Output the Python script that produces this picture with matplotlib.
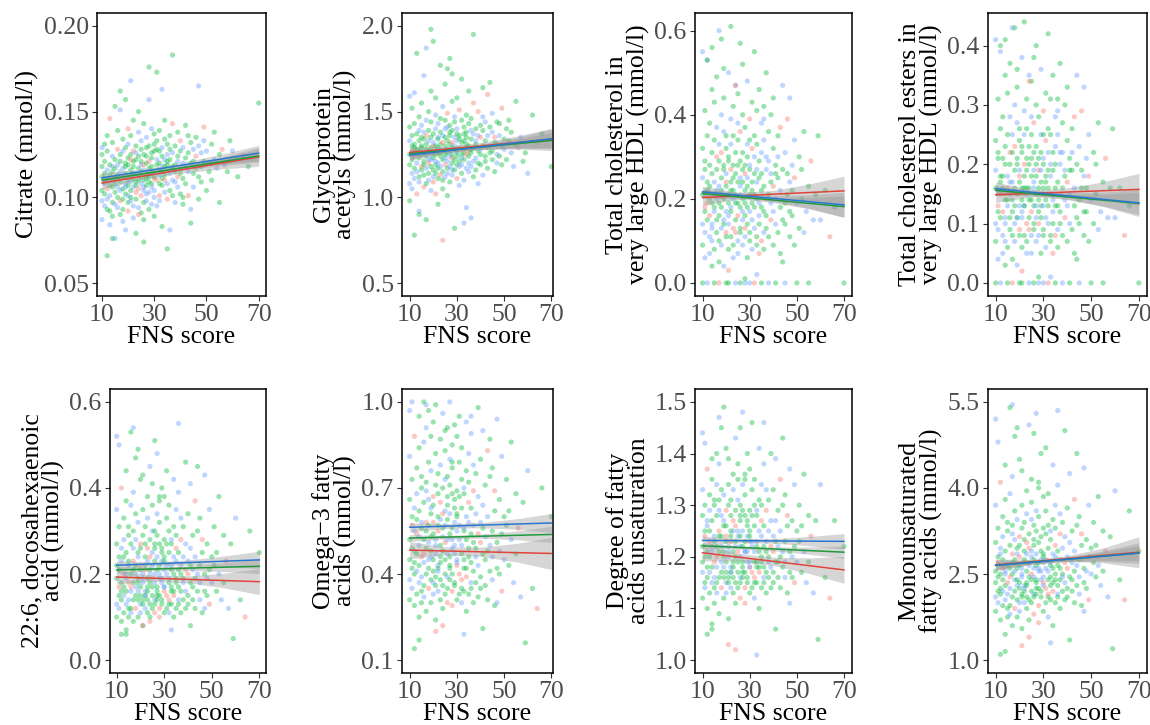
import matplotlib
matplotlib.use("Agg")
import matplotlib.pyplot as plt
from matplotlib.ticker import FormatStrFormatter

plt.rcParams['font.family'] = ['Liberation Serif', 'DejaVu Serif']

# ---------------- data ----------------
# FNS score of each participant (shared by all panels)
FNS = [10,10,10,10,10,10,11,11,11,11,
       11,11,11,12,12,12,12,12,12,12,
       13,13,13,13,13,13,13,14,14,14,
       14,14,14,14,14,15,15,15,15,15,
       15,15,15,16,16,16,16,16,16,16,
       16,17,17,17,17,17,17,17,17,18,
       18,18,18,18,18,18,18,19,19,19,
       19,19,19,19,19,20,20,20,20,20,
       20,20,20,20,21,21,21,21,21,21,
       21,21,21,22,22,22,22,22,22,22,
       22,22,23,23,23,23,23,23,23,23,
       23,24,24,24,24,24,24,24,24,25,
       25,25,25,25,25,25,25,25,26,26,
       26,26,26,26,26,26,26,27,27,27,
       27,27,27,27,27,27,28,28,28,28,
       28,28,28,28,28,29,29,29,29,29,
       29,29,29,30,30,30,30,30,30,30,
       30,30,31,31,31,31,31,31,31,32,
       32,32,32,32,32,32,32,33,33,33,
       33,33,33,33,34,34,34,34,34,34,
       34,35,35,35,35,35,35,35,36,36,
       36,36,36,36,37,37,37,37,37,37,
       38,38,38,38,38,39,39,39,39,39,
       40,40,40,40,40,41,41,41,41,42,
       42,42,42,43,43,43,43,44,44,44,
       45,45,45,45,46,46,46,47,47,47,
       48,48,48,49,49,49,50,50,51,51,
       52,52,53,53,54,55,55,56,57,58,
       12,17,21,26,33,44,59,60,62,64,
       10,14,19,24,28,36,41,47,66,70]

# group of each participant: r / g / b
GROUP = "".join([
    "gbggbgrgbg", "ggbgbgrgbg", "bggrgbggbg", "ggbgbggrbg", "gbgrggbgbb",
    "gggbgbrggb", "bgggrbgbgg", "gbgbggrggb", "ggrbgbggbg", "bgggbgrbgg",
    "gbggrgbgbg", "ggbgbgrggb", "bgrggbggbg", "gggbrgbgbg", "gbgbggrgbg",
    "ggbrgbggbg", "bggbgrggbg", "gbggbgrbgg", "ggrgbgbggb", "bgggbgrgbg",
    "gbgrgbggbg", "ggbgbrggbg", "gbggbgrgbb", "bggrgbgbgg", "ggbgrgbggb",
    "gbgbggrgbg", "bggbgrgbgg", "ggbgbggrbg", "gbrgbggbgr", "bggrgbgbgg"])

Y_CITRATE = [
    0.112,0.098,0.125,0.104,0.087,0.118,0.109,0.131,0.095,0.114,
    0.102,0.121,0.108,0.093,0.116,0.136,0.105,0.111,0.099,0.127,
    0.084,0.113,0.107,0.146,0.119,0.101,0.092,0.115,0.124,0.106,
    0.097,0.132,0.110,0.089,0.118,0.103,0.153,0.112,0.096,0.122,
    0.108,0.076,0.117,0.128,0.100,0.113,0.094,0.139,0.106,0.119,
    0.111,0.090,0.125,0.104,0.162,0.115,0.098,0.109,0.121,0.086,
    0.117,0.105,0.134,0.099,0.112,0.127,0.093,0.108,0.120,0.102,
    0.114,0.081,0.129,0.106,0.118,0.097,0.140,0.110,0.123,0.101,
    0.107,0.119,0.092,0.131,0.113,0.168,0.104,0.116,0.098,0.125,
    0.109,0.136,0.100,0.121,0.088,0.114,0.127,0.106,0.145,0.111,
    0.118,0.095,0.109,0.130,0.103,0.122,0.114,0.079,0.126,0.107,
    0.099,0.117,0.138,0.110,0.094,0.124,0.105,0.113,0.150,0.119,
    0.108,0.128,0.101,0.115,0.091,0.133,0.112,0.121,0.104,0.097,
    0.125,0.110,0.143,0.106,0.119,0.087,0.116,0.129,0.102,0.113,
    0.120,0.098,0.111,0.135,0.107,0.124,0.115,0.093,0.157,0.109,
    0.117,0.130,0.103,0.121,0.112,0.096,0.126,0.108,0.140,0.114,
    0.106,0.123,0.118,0.100,0.131,0.111,0.089,0.127,0.115,0.137,
    0.112,0.104,0.128,0.119,0.095,0.133,0.110,0.122,0.173,0.108,
    0.116,0.127,0.101,0.120,0.113,0.139,0.098,0.124,0.111,0.118,
    0.129,0.107,0.115,0.083,0.122,0.134,0.110,0.118,0.103,0.145,
    0.113,0.125,0.119,0.099,0.131,0.108,0.121,0.070,0.116,0.128,
    0.104,0.136,0.114,0.122,0.110,0.143,0.118,0.101,0.126,0.183,
    0.119,0.109,0.130,0.115,0.097,0.124,0.112,0.138,0.106,0.121,
    0.117,0.127,0.102,0.133,0.114,0.120,0.096,0.129,0.111,0.142,
    0.123,0.108,0.118,0.136,0.101,0.126,0.115,0.120,0.132,0.093,
    0.114,0.128,0.121,0.106,0.135,0.117,0.124,0.099,0.130,0.112,
    0.126,0.118,0.109,0.133,0.121,0.141,0.104,0.127,0.115,0.120,
    0.131,0.110,0.122,0.138,0.117,0.125,0.097,0.128,0.119,0.115,
    0.066,0.151,0.122,0.074,0.163,0.085,0.133,0.127,0.112,0.124,
    0.129,0.076,0.157,0.090,0.176,0.081,0.100,0.165,0.118,0.155]

Y_GLYCA = [
    1.25,1.08,1.41,1.19,1.33,0.98,1.27,1.52,1.14,1.30,
    1.22,1.36,1.05,1.29,1.61,1.17,1.24,1.43,1.11,1.31,
    1.20,1.84,1.28,1.02,1.37,1.15,1.26,1.47,1.09,1.33,
    1.23,1.12,1.39,1.27,0.92,1.30,1.55,1.18,1.25,1.35,
    1.16,1.42,1.29,1.06,1.21,1.34,1.71,1.13,1.26,1.38,
    1.19,1.31,1.08,1.45,1.24,1.17,1.36,1.28,0.87,1.22,
    1.33,1.14,1.27,1.50,1.20,1.10,1.39,1.25,1.62,1.18,
    1.29,1.04,1.35,1.22,1.44,1.16,1.30,1.91,1.26,1.12,
    1.37,1.23,1.09,1.32,1.19,1.48,1.27,1.14,1.40,1.25,
    1.21,1.58,1.30,1.17,1.35,0.96,1.26,1.43,1.11,1.29,
    1.34,1.20,1.46,1.24,1.13,1.38,1.28,1.77,1.18,1.31,
    1.26,1.10,1.36,1.22,1.53,1.15,1.32,1.27,1.05,1.40,
    1.23,1.45,1.19,1.30,1.66,1.12,1.35,1.25,1.41,1.17,
    1.28,1.01,1.33,1.21,1.49,1.26,1.14,1.38,1.24,1.81,
    1.31,1.18,1.42,1.27,1.09,1.36,1.23,1.56,1.16,1.29,
    1.25,1.39,1.13,1.32,1.20,1.47,1.28,0.82,1.35,1.22,
    1.30,1.16,1.44,1.26,1.37,1.11,1.58,1.24,1.33,1.19,
    1.27,1.40,1.21,1.34,1.07,1.29,1.51,1.18,1.36,1.25,
    1.32,1.14,1.28,1.45,1.23,1.69,1.19,1.37,1.26,1.10,
    1.29,1.41,1.22,1.33,1.17,1.48,1.25,1.38,0.94,1.31,
    1.35,1.20,1.43,1.27,1.62,1.15,1.30,1.24,1.39,1.28,
    1.26,1.46,1.18,1.34,1.21,1.55,1.29,1.12,1.37,1.95,
    1.31,1.23,1.40,1.16,1.33,1.27,1.50,1.20,1.36,1.08,
    1.28,1.42,1.25,1.35,1.19,1.47,1.30,1.13,1.39,1.24,
    1.33,1.21,1.44,1.29,1.60,1.17,1.36,1.26,1.41,1.30,
    1.27,1.38,1.22,1.49,1.32,1.15,1.35,1.44,1.25,1.31,
    1.36,1.24,1.43,1.30,1.19,1.52,1.34,1.28,1.40,1.22,
    1.33,1.45,1.26,1.38,1.18,1.31,1.56,1.29,1.35,1.21,
    0.78,1.87,1.02,1.75,0.85,1.67,1.26,1.14,1.48,1.32,
    1.59,0.90,1.98,0.75,1.72,0.88,1.64,1.20,1.37,1.18]

Y_XLHDL_C = [
    0.21,0.14,0.32,0.09,0.25,0.00,0.18,0.41,0.12,0.27,
    0.17,0.29,0.06,0.22,0.53,0.15,0.19,0.35,0.00,0.24,
    0.11,0.20,0.38,0.16,0.28,0.07,0.23,0.46,0.13,0.31,
    0.19,0.56,0.10,0.26,0.14,0.34,0.00,0.21,0.17,0.43,
    0.08,0.24,0.18,0.30,0.12,0.49,0.22,0.15,0.37,0.20,
    0.27,0.10,0.19,0.33,0.05,0.23,0.00,0.29,0.16,0.40,
    0.13,0.25,0.58,0.18,0.31,0.09,0.22,0.36,0.14,0.27,
    0.20,0.04,0.28,0.15,0.44,0.11,0.24,0.00,0.32,0.17,
    0.23,0.35,0.12,0.26,0.19,0.50,0.08,0.29,0.16,0.21,
    0.14,0.30,0.00,0.22,0.39,0.11,0.27,0.18,0.61,0.24,
    0.17,0.33,0.09,0.25,0.13,0.42,0.20,0.28,0.06,0.35,
    0.22,0.15,0.47,0.19,0.00,0.26,0.12,0.31,0.21,0.38,
    0.10,0.24,0.16,0.34,0.28,0.07,0.45,0.19,0.23,0.13,
    0.29,0.18,0.00,0.25,0.36,0.12,0.21,0.52,0.15,0.27,
    0.20,0.09,0.31,0.17,0.40,0.24,0.13,0.28,0.00,0.22,
    0.16,0.37,0.11,0.26,0.19,0.33,0.06,0.23,0.48,0.18,
    0.25,0.14,0.30,0.00,0.21,0.39,0.10,0.27,0.17,0.34,
    0.12,0.28,0.19,0.43,0.08,0.24,0.32,0.15,0.22,0.55,
    0.18,0.26,0.00,0.35,0.13,0.21,0.30,0.09,0.41,0.24,
    0.27,0.11,0.20,0.33,0.16,0.46,0.07,0.25,0.19,0.29,
    0.14,0.38,0.22,0.10,0.00,0.31,0.18,0.26,0.12,0.42,
    0.23,0.17,0.34,0.08,0.27,0.20,0.50,0.13,0.30,0.16,
    0.21,0.29,0.11,0.36,0.00,0.24,0.15,0.40,0.19,0.26,
    0.17,0.32,0.09,0.23,0.44,0.14,0.28,0.20,0.00,0.35,
    0.25,0.12,0.30,0.18,0.37,0.07,0.22,0.27,0.15,0.47,
    0.19,0.31,0.14,0.00,0.26,0.21,0.39,0.11,0.24,0.17,
    0.28,0.16,0.22,0.34,0.09,0.25,0.00,0.19,0.30,0.13,
    0.20,0.27,0.12,0.36,0.17,0.23,0.00,0.29,0.15,0.21,
    0.53,0.60,0.03,0.57,0.02,0.05,0.35,0.15,0.22,0.11,
    0.55,0.04,0.51,0.47,0.01,0.39,0.26,0.44,0.18,0.00]

Y_XLHDL_CE = [
    0.16,0.10,0.24,0.07,0.19,0.00,0.13,0.31,0.09,0.21,
    0.12,0.22,0.04,0.17,0.39,0.11,0.15,0.26,0.00,0.18,
    0.08,0.16,0.28,0.12,0.21,0.05,0.18,0.35,0.10,0.23,
    0.14,0.41,0.07,0.20,0.11,0.25,0.00,0.16,0.13,0.32,
    0.06,0.18,0.14,0.22,0.09,0.37,0.17,0.11,0.28,0.15,
    0.20,0.08,0.14,0.25,0.04,0.17,0.00,0.22,0.12,0.30,
    0.10,0.19,0.43,0.13,0.23,0.07,0.16,0.27,0.11,0.20,
    0.15,0.03,0.21,0.11,0.33,0.08,0.18,0.00,0.24,0.13,
    0.17,0.26,0.09,0.19,0.14,0.38,0.06,0.22,0.12,0.16,
    0.11,0.23,0.00,0.16,0.29,0.08,0.20,0.13,0.44,0.18,
    0.13,0.25,0.07,0.19,0.10,0.31,0.15,0.21,0.05,0.26,
    0.16,0.11,0.35,0.14,0.00,0.20,0.09,0.23,0.16,0.28,
    0.08,0.18,0.12,0.25,0.21,0.05,0.34,0.14,0.17,0.10,
    0.22,0.13,0.00,0.19,0.27,0.09,0.16,0.40,0.11,0.20,
    0.15,0.07,0.23,0.13,0.30,0.18,0.10,0.21,0.00,0.16,
    0.12,0.28,0.08,0.19,0.14,0.25,0.05,0.17,0.36,0.13,
    0.19,0.11,0.22,0.00,0.16,0.29,0.08,0.20,0.13,0.25,
    0.09,0.21,0.14,0.32,0.06,0.18,0.24,0.11,0.17,0.42,
    0.13,0.19,0.00,0.26,0.10,0.16,0.22,0.07,0.31,0.18,
    0.20,0.08,0.15,0.25,0.12,0.35,0.05,0.19,0.14,0.22,
    0.10,0.28,0.16,0.08,0.00,0.23,0.13,0.20,0.09,0.31,
    0.17,0.13,0.25,0.06,0.20,0.15,0.37,0.10,0.22,0.12,
    0.16,0.22,0.08,0.27,0.00,0.18,0.11,0.30,0.14,0.19,
    0.13,0.24,0.07,0.17,0.33,0.10,0.21,0.15,0.00,0.26,
    0.19,0.09,0.22,0.13,0.28,0.05,0.16,0.20,0.11,0.35,
    0.14,0.23,0.10,0.00,0.19,0.16,0.29,0.08,0.18,0.12,
    0.21,0.12,0.16,0.25,0.07,0.18,0.00,0.14,0.22,0.10,
    0.15,0.20,0.09,0.27,0.12,0.17,0.00,0.21,0.11,0.16,
    0.40,0.43,0.02,0.38,0.01,0.04,0.26,0.11,0.16,0.08,
    0.41,0.03,0.36,0.34,0.01,0.29,0.19,0.33,0.13,0.00]

Y_DHA = [
    0.19,0.13,0.27,0.22,0.35,0.10,0.17,0.24,0.50,0.15,
    0.21,0.31,0.12,0.18,0.26,0.09,0.40,0.16,0.23,0.14,
    0.28,0.17,0.11,0.20,0.33,0.15,0.24,0.07,0.19,0.44,
    0.16,0.25,0.13,0.37,0.20,0.12,0.29,0.18,0.22,0.10,
    0.23,0.14,0.31,0.17,0.53,0.20,0.11,0.27,0.16,0.36,
    0.12,0.21,0.18,0.26,0.14,0.39,0.23,0.09,0.30,0.17,
    0.20,0.34,0.15,0.22,0.12,0.28,0.47,0.16,0.25,0.19,
    0.14,0.24,0.18,0.32,0.10,0.21,0.27,0.15,0.42,0.13,
    0.26,0.17,0.22,0.11,0.35,0.19,0.14,0.29,0.20,0.08,
    0.18,0.43,0.13,0.24,0.16,0.31,0.21,0.12,0.27,0.15,
    0.22,0.15,0.38,0.19,0.26,0.11,0.23,0.17,0.33,0.14,
    0.16,0.28,0.20,0.13,0.45,0.18,0.24,0.10,0.21,0.30,
    0.25,0.12,0.19,0.36,0.15,0.22,0.17,0.41,0.14,0.27,
    0.13,0.23,0.30,0.18,0.11,0.26,0.20,0.15,0.34,0.16,
    0.21,0.48,0.14,0.24,0.17,0.29,0.12,0.22,0.19,0.37,
    0.15,0.27,0.20,0.10,0.32,0.18,0.25,0.13,0.23,0.40,
    0.19,0.14,0.26,0.21,0.38,0.16,0.11,0.28,0.17,0.23,
    0.24,0.17,0.33,0.12,0.20,0.44,0.15,0.22,0.27,0.13,
    0.18,0.30,0.14,0.25,0.19,0.36,0.11,0.21,0.16,0.28,
    0.22,0.13,0.27,0.17,0.42,0.20,0.15,0.31,0.24,0.10,
    0.16,0.35,0.19,0.26,0.12,0.23,0.18,0.29,0.14,0.21,
    0.25,0.17,0.39,0.13,0.22,0.28,0.16,0.20,0.33,0.11,
    0.19,0.24,0.14,0.31,0.18,0.46,0.21,0.12,0.27,0.16,
    0.23,0.15,0.34,0.20,0.13,0.26,0.18,0.41,0.22,0.14,
    0.17,0.29,0.21,0.12,0.37,0.19,0.24,0.16,0.30,0.20,
    0.22,0.14,0.33,0.18,0.25,0.11,0.28,0.20,0.43,0.16,
    0.19,0.27,0.15,0.35,0.21,0.13,0.24,0.18,0.31,0.22,
    0.16,0.25,0.20,0.38,0.14,0.29,0.18,0.23,0.12,0.27,
    0.06,0.54,0.08,0.51,0.07,0.45,0.05,0.33,0.14,0.10,
    0.52,0.06,0.49,0.09,0.38,0.55,0.08,0.12,0.30,0.25]

Y_OMEGA3 = [
    0.52,0.38,0.66,0.45,0.81,0.31,0.57,0.49,1.00,0.42,
    0.60,0.73,0.35,0.48,0.55,0.29,0.88,0.44,0.63,0.40,
    0.68,0.47,0.33,0.54,0.77,0.41,0.59,0.25,0.50,0.95,
    0.43,0.62,0.37,0.84,0.53,0.34,0.70,0.46,0.58,0.30,
    0.56,0.39,0.74,0.47,1.00,0.52,0.32,0.65,0.44,0.86,
    0.36,0.55,0.49,0.69,0.40,0.91,0.58,0.27,0.72,0.45,
    0.51,0.79,0.42,0.57,0.35,0.66,0.97,0.46,0.61,0.53,
    0.38,0.63,0.48,0.76,0.30,0.54,0.67,0.41,0.93,0.37,
    0.64,0.45,0.58,0.33,0.82,0.50,0.39,0.71,0.52,0.24,
    0.47,0.99,0.36,0.60,0.43,0.75,0.55,0.34,0.68,0.42,
    0.57,0.41,0.87,0.50,0.65,0.31,0.59,0.46,0.78,0.38,
    0.44,0.70,0.53,0.36,0.96,0.48,0.61,0.28,0.56,0.73,
    0.62,0.33,0.51,0.83,0.40,0.57,0.45,0.90,0.39,0.67,
    0.35,0.59,0.74,0.47,0.30,0.64,0.52,0.42,0.80,0.43,
    0.54,1.00,0.38,0.61,0.46,0.71,0.34,0.56,0.49,0.85,
    0.40,0.68,0.52,0.29,0.77,0.47,0.63,0.36,0.58,0.92,
    0.50,0.37,0.66,0.55,0.88,0.43,0.31,0.69,0.45,0.60,
    0.61,0.44,0.79,0.33,0.52,0.95,0.40,0.57,0.67,0.35,
    0.47,0.73,0.38,0.63,0.50,0.84,0.30,0.55,0.42,0.70,
    0.56,0.34,0.68,0.45,0.93,0.52,0.39,0.76,0.60,0.27,
    0.42,0.82,0.49,0.65,0.33,0.58,0.46,0.72,0.37,0.54,
    0.63,0.44,0.89,0.35,0.57,0.69,0.41,0.51,0.78,0.30,
    0.49,0.61,0.37,0.75,0.46,0.98,0.54,0.32,0.67,0.43,
    0.58,0.39,0.80,0.51,0.35,0.64,0.47,0.90,0.56,0.36,
    0.45,0.71,0.53,0.31,0.83,0.48,0.60,0.41,0.74,0.50,
    0.55,0.38,0.77,0.46,0.62,0.29,0.69,0.51,0.94,0.42,
    0.48,0.66,0.40,0.81,0.54,0.34,0.60,0.45,0.73,0.57,
    0.43,0.62,0.52,0.86,0.37,0.68,0.47,0.56,0.32,0.65,
    0.14,0.99,0.20,0.91,0.19,0.87,0.16,0.76,0.35,0.28,
    0.97,0.17,0.88,0.22,0.79,0.95,0.21,0.30,0.70,0.60]

Y_UNSAT = [
    1.22,1.17,1.28,1.19,1.33,1.12,1.24,1.20,1.42,1.15,
    1.25,1.30,1.14,1.21,1.26,1.10,1.37,1.18,1.27,1.16,
    1.29,1.20,1.13,1.23,1.32,1.17,1.25,1.06,1.21,1.39,
    1.18,1.27,1.15,1.35,1.22,1.14,1.30,1.19,1.24,1.11,
    1.23,1.16,1.31,1.20,1.40,1.22,1.13,1.28,1.18,1.34,
    1.15,1.24,1.21,1.29,1.16,1.38,1.25,1.09,1.31,1.19,
    1.22,1.33,1.17,1.24,1.14,1.28,1.45,1.18,1.26,1.21,
    1.16,1.27,1.20,1.32,1.12,1.23,1.29,1.17,1.41,1.15,
    1.26,1.19,1.24,1.13,1.34,1.21,1.16,1.30,1.22,1.08,
    1.20,1.39,1.15,1.25,1.18,1.31,1.23,1.14,1.28,1.17,
    1.24,1.17,1.36,1.21,1.27,1.13,1.25,1.19,1.33,1.16,
    1.18,1.29,1.22,1.15,1.43,1.20,1.26,1.11,1.23,1.31,
    1.25,1.14,1.21,1.35,1.17,1.24,1.19,1.38,1.16,1.28,
    1.15,1.24,1.30,1.20,1.12,1.27,1.22,1.17,1.34,1.18,
    1.22,1.48,1.16,1.25,1.19,1.29,1.14,1.23,1.21,1.36,
    1.17,1.28,1.21,1.11,1.32,1.19,1.26,1.15,1.24,1.40,
    1.21,1.16,1.27,1.23,1.37,1.18,1.13,1.29,1.19,1.24,
    1.25,1.18,1.33,1.14,1.22,1.46,1.17,1.23,1.28,1.15,
    1.19,1.30,1.16,1.26,1.21,1.35,1.12,1.22,1.18,1.29,
    1.23,1.15,1.28,1.19,1.41,1.21,1.17,1.31,1.25,1.10,
    1.18,1.34,1.20,1.27,1.14,1.24,1.19,1.30,1.16,1.22,
    1.26,1.18,1.38,1.15,1.23,1.29,1.17,1.21,1.33,1.13,
    1.20,1.25,1.16,1.31,1.19,1.40,1.22,1.14,1.27,1.18,
    1.24,1.17,1.33,1.21,1.15,1.27,1.19,1.39,1.23,1.16,
    1.19,1.29,1.22,1.14,1.35,1.20,1.25,1.18,1.30,1.21,
    1.23,1.16,1.32,1.19,1.26,1.13,1.28,1.21,1.37,1.17,
    1.20,1.27,1.16,1.34,1.22,1.15,1.25,1.19,1.30,1.23,
    1.17,1.26,1.21,1.36,1.15,1.28,1.19,1.24,1.13,1.27,
    1.05,1.47,1.03,1.45,1.01,1.43,1.04,1.34,1.16,1.12,
    1.44,1.07,1.49,1.02,1.35,1.46,1.06,1.11,1.27,1.22]

Y_MUFA = [
    2.55,2.10,3.05,2.35,3.70,1.85,2.70,2.45,4.80,2.20,
    2.80,3.30,2.00,2.50,2.95,1.70,4.10,2.25,2.85,2.15,
    3.15,2.40,1.95,2.60,3.50,2.20,2.75,1.45,2.50,4.40,
    2.30,2.90,2.05,3.80,2.55,1.90,3.25,2.35,2.70,1.75,
    2.65,2.15,3.40,2.45,5.40,2.60,1.80,3.00,2.25,3.90,
    1.95,2.70,2.50,3.20,2.10,4.20,2.85,1.60,3.35,2.40,
    2.55,3.60,2.20,2.75,1.90,3.10,4.90,2.30,2.95,2.60,
    2.05,2.85,2.40,3.45,1.75,2.65,3.15,2.25,4.50,2.00,
    3.00,2.35,2.80,1.85,3.70,2.50,2.15,3.30,2.60,1.55,
    2.45,4.30,2.10,2.90,2.30,3.40,2.70,2.00,3.10,2.20,
    2.75,2.25,3.95,2.55,3.05,1.90,2.85,2.35,3.55,2.10,
    2.30,3.20,2.65,2.05,5.10,2.45,2.95,1.70,2.70,3.45,
    2.90,2.00,2.50,3.75,2.20,2.80,2.40,4.15,2.15,3.10,
    2.10,2.75,3.35,2.45,1.80,3.00,2.60,2.25,3.60,2.35,
    2.65,5.30,2.15,2.85,2.40,3.25,1.95,2.70,2.55,4.00,
    2.25,3.05,2.60,1.65,3.50,2.40,2.90,2.10,2.75,4.60,
    2.55,2.20,3.15,2.70,3.85,2.35,1.85,3.30,2.45,2.80,
    2.85,2.30,3.60,2.00,2.60,4.70,2.25,2.75,3.20,2.10,
    2.40,3.35,2.15,2.95,2.55,3.90,1.75,2.65,2.30,3.25,
    2.70,2.05,3.10,2.45,4.40,2.60,2.20,3.45,2.85,1.60,
    2.35,3.70,2.50,3.00,2.00,2.80,2.40,3.30,2.15,2.65,
    2.90,2.30,4.05,2.10,2.75,3.20,2.40,2.60,3.55,1.90,
    2.50,2.95,2.20,3.40,2.45,5.00,2.70,2.05,3.15,2.35,
    2.80,2.25,3.65,2.60,2.10,3.05,2.45,4.25,2.75,2.20,
    2.40,3.25,2.70,2.00,3.80,2.55,2.90,2.30,3.35,2.65,
    2.75,2.15,3.50,2.45,3.00,1.95,3.20,2.60,4.35,2.35,
    2.55,3.10,2.25,3.70,2.80,2.05,2.95,2.50,3.40,2.70,
    2.45,3.00,2.65,3.85,2.30,3.25,2.55,2.90,2.10,3.15,
    1.10,5.45,1.25,4.95,1.30,4.60,1.20,3.95,2.40,2.05,
    5.20,1.15,5.05,1.40,4.10,5.35,1.35,1.85,3.60,2.90]

Y_LABELS = ["Citrate (mmol/l)",
            "Glycoprotein\nacetyls (mmol/l)",
            "Total cholesterol in\nvery large HDL (mmol/l)",
            "Total cholesterol esters in\nvery large HDL (mmol/l)",
            "22:6, docosahexaenoic\nacid (mmol/l)",
            "Omega\u22123 fatty\nacids (mmol/l)",
            "Degree of fatty\nacids unsaturation",
            "Monounsaturated\nfatty acids (mmol/l)"]
X_LABEL = "FNS score"
X_TICKS = [10, 30, 50, 70]
Y_TICKS = [[0.05, 0.10, 0.15, 0.20], [0.5, 1.0, 1.5, 2.0],
           [0.0, 0.2, 0.4, 0.6], [0.0, 0.1, 0.2, 0.3, 0.4],
           [0.0, 0.2, 0.4, 0.6], [0.1, 0.4, 0.7, 1.0],
           [1.0, 1.1, 1.2, 1.3, 1.4, 1.5], [1.0, 2.5, 4.0, 5.5]]
Y_FMT = ["%.2f", "%.1f", "%.1f", "%.1f", "%.1f", "%.1f", "%.1f", "%.1f"]
Y_LIMS = [(0.0425, 0.2075), (0.425, 2.075), (-0.031, 0.642), (-0.022, 0.455),
          (-0.03, 0.63), (0.055, 1.045), (0.975, 1.525), (0.775, 5.725)]
X_LIMS = [(8.1, 72.8), (6.75, 70.7), (6.8, 73.4), (6.8, 73.4),
          (7.2, 72.8), (6.75, 70.7), (6.8, 73.4), (6.8, 73.4)]

# fitted lines (value at FNS 10 and at FNS 70) for groups r, g, b
FIT_X = [10, 70]
FIT_RED = [[0.1084, 0.1236], [1.262, 1.338], [0.2032, 0.2190], [0.1487, 0.1577],
           [0.1930, 0.1822], [0.4834, 0.4717], [1.2078, 1.1747], [2.660, 2.880]]
FIT_GREEN = [[0.1100, 0.1242], [1.254, 1.332], [0.2127, 0.1817], [0.1560, 0.1340],
             [0.2095, 0.2180], [0.5255, 0.5380], [1.2214, 1.2090], [2.650, 2.865]]
FIT_BLUE = [[0.1114, 0.1258], [1.246, 1.342], [0.2167, 0.1857], [0.1589, 0.1350],
            [0.2204, 0.2329], [0.5630, 0.5780], [1.2318, 1.2299], [2.650, 2.865]]

# confidence band half widths at BAND_X
BAND_X = [10, 25, 40, 55, 70]
BAND_RED = [[0.0035, 0.0017, 0.0019, 0.0033, 0.0055], [0.035, 0.017, 0.020, 0.037, 0.065],
            [0.018, 0.008, 0.009, 0.020, 0.035], [0.013, 0.006, 0.007, 0.015, 0.027],
            [0.016, 0.007, 0.008, 0.017, 0.030], [0.030, 0.014, 0.016, 0.032, 0.056],
            [0.016, 0.007, 0.008, 0.015, 0.026], [0.10, 0.045, 0.05, 0.13, 0.27]]
BAND_GREEN = [[0.0025, 0.0010, 0.0012, 0.0022, 0.0035], [0.025, 0.010, 0.012, 0.025, 0.045],
              [0.012, 0.005, 0.006, 0.013, 0.025], [0.009, 0.004, 0.0045, 0.010, 0.019],
              [0.008, 0.004, 0.005, 0.010, 0.017], [0.012, 0.006, 0.007, 0.015, 0.028],
              [0.006, 0.003, 0.0035, 0.007, 0.012], [0.06, 0.025, 0.03, 0.07, 0.13]]
BAND_BLUE = [[0.0030, 0.0013, 0.0015, 0.0027, 0.0045], [0.030, 0.013, 0.015, 0.030, 0.055],
             [0.014, 0.006, 0.007, 0.016, 0.030], [0.011, 0.0045, 0.0055, 0.012, 0.023],
             [0.010, 0.005, 0.006, 0.012, 0.020], [0.016, 0.008, 0.009, 0.018, 0.033],
             [0.0085, 0.004, 0.0045, 0.009, 0.015], [0.08, 0.035, 0.04, 0.09, 0.18]]

Y_DATA = [Y_CITRATE, Y_GLYCA, Y_XLHDL_C, Y_XLHDL_CE, Y_DHA, Y_OMEGA3, Y_UNSAT, Y_MUFA]

# ---------------- styling / layout ----------------
POINT_COLORS = {"r": "#F8766D", "g": "#00BA38", "b": "#619CFF"}
LINE_COLORS = {"r": "#E0453B", "g": "#1F9A3C", "b": "#2A78D0"}
W, H = 1150, 725
# pixel boxes: (left, top, right, bottom)
BOXES = [(97, 13, 266, 296), (402, 13, 553, 296), (695, 13, 852, 296), (988, 13, 1147, 296),
         (110, 389, 266, 673), (402, 389, 553, 673), (695, 389, 852, 673), (988, 389, 1147, 673)]
FS = 18.5

fig = plt.figure(figsize=(W / 100, H / 100), dpi=100)
pt_colors = [POINT_COLORS[c] for c in GROUP]

for i in range(8):
    l, t, r, b = BOXES[i]
    ax = fig.add_axes([l / W, 1 - b / H, (r - l) / W, (b - t) / H])
    ax.scatter(FNS, Y_DATA[i], s=14, c=pt_colors, alpha=0.4, linewidths=0, zorder=1)
    for g, fits, bands in (("r", FIT_RED, BAND_RED), ("g", FIT_GREEN, BAND_GREEN),
                           ("b", FIT_BLUE, BAND_BLUE)):
        y0, y1 = fits[i]
        centre = [y0 + (y1 - y0) * (bx - FIT_X[0]) / (FIT_X[1] - FIT_X[0]) for bx in BAND_X]
        lo = [c - h for c, h in zip(centre, bands[i])]
        hi = [c + h for c, h in zip(centre, bands[i])]
        ax.fill_between(BAND_X, lo, hi, color="#999999", alpha=0.4, linewidth=0, zorder=2)
    for g, fits in (("r", FIT_RED), ("g", FIT_GREEN), ("b", FIT_BLUE)):
        ax.plot(FIT_X, fits[i], color=LINE_COLORS[g], lw=1.1, zorder=3)

    ax.set_xlim(*X_LIMS[i])
    ax.set_ylim(*Y_LIMS[i])
    ax.set_xticks(X_TICKS)
    ax.set_yticks(Y_TICKS[i])
    ax.yaxis.set_major_formatter(FormatStrFormatter(Y_FMT[i]))
    ax.tick_params(direction="out", length=3.5, width=0.8, color="#333333",
                   labelcolor="#4D4D4D", labelsize=FS, pad=2.5)
    for sp in ax.spines.values():
        sp.set_linewidth(1.1)
        sp.set_color("black")
    ax.set_xlabel(X_LABEL, fontsize=FS, labelpad=0, color="black")
    ax.set_ylabel(Y_LABELS[i], fontsize=FS, labelpad=3, color="black", linespacing=0.95)

fig.savefig("out.png", dpi=100)
